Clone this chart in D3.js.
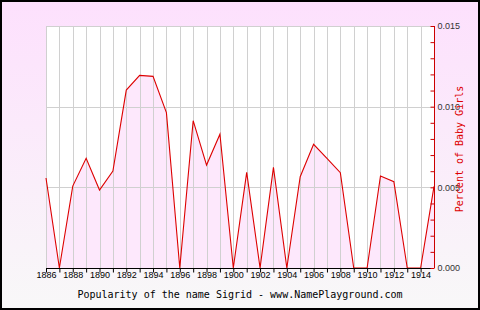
<!DOCTYPE html>
<html><head><meta charset="utf-8">
<script src="https://cdn.jsdelivr.net/npm/d3@7"></script>
<style>body{margin:0;padding:0;overflow:hidden}svg{display:block}</style>
</head><body>
<script>
const years = d3.range(1886, 1916);
const percent = [0.00558, 0, 0.00508, 0.0068, 0.00483, 0.00601, 0.01103, 0.01194, 0.01188, 0.00963,
  0, 0.00913, 0.00638, 0.00829, 0, 0.00593, 0, 0.00624, 0, 0.00566,
  0.00767, 0.00679, 0.00591, 0, 0, 0.0057, 0.00535, 0, 0, 0.00506];
const yTicks = [0, 0.005, 0.010, 0.015];
const xLabelYears = d3.range(1886, 1915, 2);
const title = "Popularity of the name Sigrid - www.NamePlayground.com";
const yTitle = "Percent of Baby Girls";

const W = 480, H = 310;
const L = 46, R = 434, T = 26, B = 268;
const svg = d3.select("body").append("svg").attr("width", W).attr("height", H);
const defs = svg.append("defs");
const g = defs.append("linearGradient").attr("id","bg").attr("x1",0).attr("y1",0).attr("x2",0).attr("y2",1);
g.append("stop").attr("offset","0%").attr("stop-color","#fde0fd");
g.append("stop").attr("offset","100%").attr("stop-color","#f8f8f8");
svg.append("rect").attr("width",W).attr("height",H).attr("fill","url(#bg)");
svg.append("rect").attr("x",1).attr("y",1).attr("width",W-2).attr("height",H-2).attr("fill","none").attr("stroke","#000").attr("stroke-width",2);

const x = d3.scaleLinear().domain([1886, 1915]).range([L, R]);
const y = d3.scaleLinear().domain([0, 0.015]).range([B, T]);

svg.append("rect").attr("x",L).attr("y",T).attr("width",R-L).attr("height",B-T).attr("fill","#fff");

// area
const data = years.map((yr,i)=>({yr, v: percent[i]}));
svg.append("path").datum(data)
  .attr("d", d3.area().x(d=>x(d.yr)).y0(y(0)).y1(d=>y(d.v)))
  .attr("fill","#fde8fc");

// grid
const grid = svg.append("g").attr("stroke","#d0d0d0").attr("stroke-width",1).attr("shape-rendering","crispEdges");
years.forEach(yr=>{ if (yr < 1915) grid.append("line").attr("x1",Math.round(x(yr))+0.5).attr("x2",Math.round(x(yr))+0.5).attr("y1",T).attr("y2",B); });
[0.005,0.010,0.015].forEach(v=>grid.append("line").attr("x1",L).attr("x2",R).attr("y1",Math.round(y(v))+0.5).attr("y2",Math.round(y(v))+0.5));

// line
svg.append("path").datum(data)
  .attr("d", d3.line().x(d=>x(d.yr)).y(d=>y(d.v)))
  .attr("fill","none").attr("stroke","#dd0000").attr("stroke-width",1.1);

// bottom axis
const xAxis = d3.axisBottom(x).tickValues(years.filter(yr=>yr<1915)).tickSize(4).tickSizeOuter(0)
  .tickFormat(d=> xLabelYears.includes(d) ? String(d) : "");
const xa = svg.append("g").attr("transform",`translate(0,${B+0.5})`).call(xAxis);
xa.select(".domain").attr("stroke","#000").attr("d",`M${L},0H${R}`);
xa.selectAll(".tick line").attr("stroke","#000");
xa.selectAll(".tick text").attr("font-family","Liberation Sans, Arial, sans-serif").attr("font-size","9px").attr("fill","#000").attr("dy","0.65em").attr("y",4);

// right axis
const yAxis = d3.axisRight(y).tickValues(d3.range(0,16).map(i=>i*0.001)).tickSize(-4).tickSizeOuter(0)
  .tickFormat(d=> yTicks.some(t=>Math.abs(t-d)<1e-9) ? d3.format(".3f")(d) : "");
const ya = svg.append("g").attr("transform",`translate(${R+0.5},0)`).call(yAxis);
ya.select(".domain").attr("stroke","#cc0000").attr("d",`M0,${T}V${B}`);
ya.selectAll(".tick line").attr("stroke","#cc0000");
ya.selectAll(".tick text").attr("x",3).attr("font-family","Liberation Sans, Arial, sans-serif").attr("font-size","9px").attr("fill","#333");

svg.append("text").attr("transform",`translate(463,149) rotate(-90)`).attr("text-anchor","middle")
  .attr("font-family","DejaVu Sans Mono, monospace").attr("font-size","10px").attr("fill","#dd0000").text(yTitle);

svg.append("text").attr("x",240).attr("y",298).attr("text-anchor","middle")
  .attr("font-family","DejaVu Sans Mono, monospace").attr("font-size","10px").attr("fill","#000").text(title);
</script>
</body></html>
